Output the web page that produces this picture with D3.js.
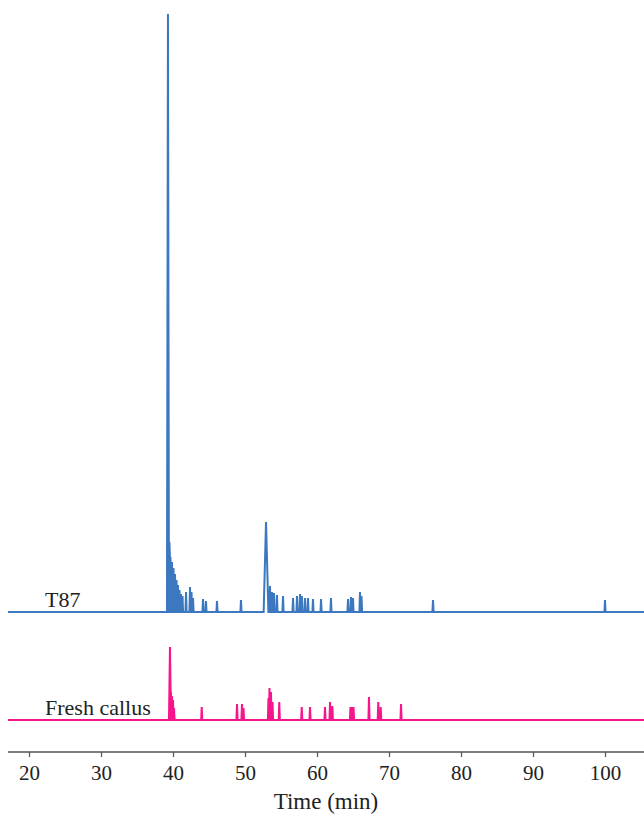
<!DOCTYPE html>
<html>
<head>
<meta charset="utf-8">
<script src="https://cdn.jsdelivr.net/npm/d3@7"></script>
<style>
  body{ margin:0; background:#fff; }
  svg text{ font-family:"Liberation Serif", "Times New Roman", serif; fill:#222; }
</style>
</head>
<body>
<div id="chart"></div>
<script>
// retention times (min) and peak heights (arbitrary units)
var t87Times   = [39.3, 39.5, 39.65, 39.86, 40.07, 40.28, 40.49, 40.69, 40.9, 41.11, 41.32, 41.81, 42.36, 42.57, 42.78,
                  44.17, 44.58, 46.11, 49.44, 52.92, 53.47, 53.75, 54.03, 54.44, 55.28, 56.67, 57.22, 57.64, 57.9,
                  58.33, 58.75, 59.44, 60.56, 61.94, 64.31, 64.72, 65.0, 65.97, 66.18, 76.11, 100.0];
var t87Heights = [598, 70, 55, 50, 44, 38, 32, 27, 22, 18, 16, 20, 25, 20, 14,
                  13, 11, 11, 12, 90, 26, 20, 19, 17, 16, 14, 16, 18, 16,
                  14, 14, 13, 13, 14, 13, 15, 14, 20, 16, 12, 12];

var callusTimes   = [39.58, 39.72, 39.85, 40.0, 40.14, 43.99, 48.89, 49.58, 49.79, 53.26, 53.4, 53.61, 53.82, 54.76,
                     57.88, 59.03, 61.11, 61.81, 62.13, 64.65, 64.86, 65.07, 67.22, 68.51, 68.85, 71.67];
var callusHeights = [73, 28, 24, 20, 12, 13, 16, 16, 12, 22, 32, 28, 18, 18,
                     13, 13, 13, 18, 14, 13, 13, 13, 23, 18, 13, 16];

var xTicks = [20, 30, 40, 50, 60, 70, 80, 90, 100];
var samples = ['T87', 'Fresh callus'];

var W = 644, H = 816
	, x0 = 8, x1 = 644
	, axisY = 752
	, baseY = [612, 720]
	, colors = ['#3b78bf', '#f7158b']
	;

var svg = d3.select('#chart').append('svg').attr('width', W).attr('height', H);

// 20 -> 29px, 7.2 px per minute
var x = d3.scaleLinear().domain([20, 100]).range([29, 605]);
var y = d3.scaleLinear().domain([0, 600]).range([0, 600]);

var series = [
	d3.zip(t87Times, t87Heights),
	d3.zip(callusTimes, callusHeights)
];

// each peak drawn as a narrow spike on the baseline
function spikes(peaks, i){
	var pts = [[x.invert(x0), 0]];
	peaks.forEach(function(p){
		var w = 0.08;
		if( i === 0 && p[1] > 60 && p[1] < 200 ) w = 0.33;
		else if( p[1] > 60 ) w = 0.14;
		pts.push([p[0] - w, 0], [p[0], p[1]], [p[0] + w, 0]);
	});
	pts.push([x.invert(x1), 0]);
	return pts;
}

series.forEach(function(peaks, i){
	var line = d3.line()
		.x(function(d){ return x(d[0]); })
		.y(function(d){ return baseY[i] - y(d[1]); });
	svg.append('path')
		.attr('d', line(spikes(peaks, i)))
		.attr('fill', 'none')
		.attr('stroke', colors[i])
		.attr('stroke-width', 2)
		.attr('stroke-linejoin', 'miter');

	svg.append('text')
		.attr('x', 45)
		.attr('y', baseY[i] - 5)
		.attr('font-size', 22)
		.text(samples[i]);
});

// bottom axis
var axis = d3.axisBottom(x).tickValues(xTicks).tickSize(5).tickSizeOuter(0);
var g = svg.append('g').attr('transform', 'translate(0,' + axisY + ')').call(axis);
g.select('.domain').remove();
g.append('line').attr('x1', x0).attr('x2', x1).attr('stroke', '#555').attr('stroke-width', 1.5);
g.selectAll('.tick line').attr('stroke', '#555').attr('stroke-width', 1.2);
g.selectAll('.tick text')
	.attr('y', 13)
	.attr('font-size', 21)
	.attr('font-family', '"Liberation Serif", serif')
	.attr('fill', '#222');

svg.append('text')
	.attr('x', (x0 + x1) / 2)
	.attr('y', 809)
	.attr('text-anchor', 'middle')
	.attr('font-size', 23)
	.text('Time (min)');
</script>
</body>
</html>
